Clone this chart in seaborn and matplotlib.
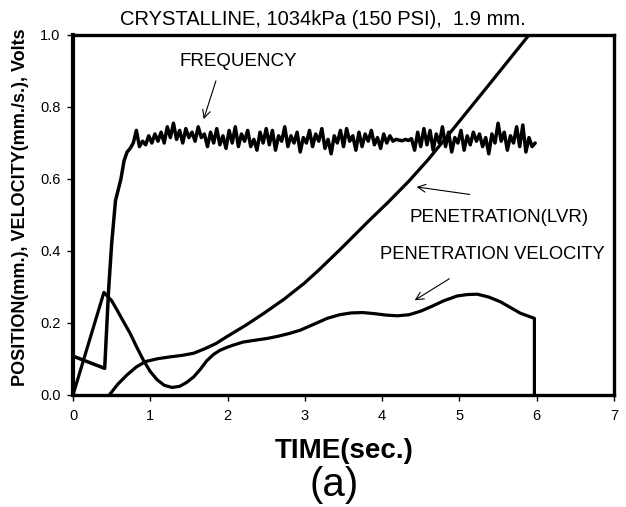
import numpy as np
import pandas as pd
import matplotlib
matplotlib.use("Agg")
import matplotlib.pyplot as plt
import seaborn as sns

# ---------------- data ----------------
title_text = "CRYSTALLINE, 1034kPa (150 PSI),  1.9 mm."
x_ticks = [0, 1, 2, 3, 4, 5, 6, 7]
y_ticks = [0.0, 0.2, 0.4, 0.6, 0.8, 1.0]

# Frequency: rising part
freq_t_start = [0.0, 0.41, 0.46, 0.50, 0.55, 0.62, 0.66, 0.70]
freq_v_start = [0.108, 0.074, 0.29, 0.42, 0.54, 0.60, 0.65, 0.675]
# Frequency: noisy plateau, sampled every 0.04 s from 0.74 s
freq_noise_t0 = 0.74
freq_noise_dt = 0.04
freq_noise_v = [
    0.685, 0.700, 0.735, 0.690, 0.705, 0.695, 0.720, 0.700, 0.725, 0.705,
    0.730, 0.700, 0.745, 0.715, 0.755, 0.710, 0.735, 0.700, 0.740, 0.715,
    0.730, 0.705, 0.745, 0.715, 0.725, 0.690, 0.730, 0.700, 0.740, 0.695,
    0.720, 0.685, 0.735, 0.700, 0.745, 0.690, 0.725, 0.705, 0.735, 0.690,
    0.710, 0.680, 0.730, 0.700, 0.740, 0.695, 0.735, 0.680, 0.720, 0.705,
    0.745, 0.690, 0.720, 0.700, 0.730, 0.675, 0.715, 0.700, 0.735, 0.690,
    0.725, 0.705, 0.740, 0.685, 0.710, 0.670, 0.720, 0.700, 0.735, 0.690,
    0.740, 0.705, 0.720, 0.680, 0.730, 0.690, 0.725, 0.705, 0.735, 0.695,
    0.715, 0.685, 0.725, 0.700, 0.720, 0.705, 0.710, 0.708, 0.706, 0.710,
    0.707, 0.712, 0.680, 0.730, 0.690, 0.740, 0.695, 0.735, 0.680, 0.725,
    0.700, 0.745, 0.690, 0.730, 0.675, 0.715, 0.700, 0.735, 0.680, 0.720,
    0.695, 0.730, 0.705, 0.725, 0.690, 0.715, 0.670, 0.725, 0.700, 0.755,
    0.705, 0.730, 0.680, 0.720, 0.700, 0.745, 0.690, 0.750, 0.675, 0.715,
    0.690, 0.700,
]

# Penetration velocity
vel_t = [0.0, 0.40, 0.50, 0.57, 0.65, 0.74, 0.82, 0.91, 1.00, 1.09, 1.18, 1.28,
         1.38, 1.47, 1.56, 1.65, 1.73, 1.82, 1.90, 2.00, 2.08, 2.20, 2.35, 2.51,
         2.65, 2.80, 2.94, 3.10, 3.29, 3.45, 3.60, 3.75, 3.90, 4.05, 4.20, 4.35,
         4.50, 4.63, 4.80, 4.97, 5.10, 5.23, 5.38, 5.53, 5.66, 5.79, 5.97, 5.97]
vel_v = [0.0, 0.285, 0.262, 0.236, 0.205, 0.171, 0.135, 0.097, 0.065, 0.042, 0.027, 0.021,
         0.024, 0.035, 0.050, 0.072, 0.095, 0.113, 0.124, 0.133, 0.139, 0.147, 0.152, 0.157,
         0.163, 0.171, 0.180, 0.195, 0.213, 0.223, 0.228, 0.229, 0.226, 0.222, 0.220, 0.223,
         0.233, 0.245, 0.262, 0.275, 0.279, 0.280, 0.272, 0.259, 0.243, 0.227, 0.213, 0.0]

# Penetration (LVR)
lvr_t = [0.47, 0.58, 0.70, 0.82, 0.94, 1.10, 1.26, 1.41, 1.56, 1.70, 1.85, 1.99,
         2.23, 2.47, 2.73, 2.99, 3.18, 3.46, 3.81, 4.08, 4.35, 4.60, 4.84, 5.10,
         5.36, 5.63, 5.90, 6.00]
lvr_v = [0.0, 0.030, 0.056, 0.078, 0.093, 0.101, 0.106, 0.110, 0.116, 0.128, 0.143, 0.162,
         0.193, 0.227, 0.266, 0.310, 0.347, 0.405, 0.480, 0.536, 0.595, 0.655, 0.718, 0.787,
         0.856, 0.928, 1.000, 1.027]

# ---------------- build tables ----------------
freq_t = freq_t_start + list(np.round(freq_noise_t0 + freq_noise_dt * np.arange(len(freq_noise_v)), 3))
freq_v = freq_v_start + freq_noise_v
df_freq = pd.DataFrame({"t": freq_t, "v": freq_v})
df_vel = pd.DataFrame({"t": vel_t, "v": vel_v})
df_lvr = pd.DataFrame({"t": lvr_t, "v": lvr_v})

# ---------------- style ----------------
sns.set_style("white")
plt.rcParams["font.family"] = ["Liberation Sans", "DejaVu Sans"]
plt.rcParams["text.color"] = "black"
plt.rcParams["axes.labelcolor"] = "black"
plt.rcParams["xtick.color"] = "black"
plt.rcParams["ytick.color"] = "black"

fig = plt.figure(figsize=(6.26, 5.07), dpi=100)
ax = fig.add_axes([73 / 626, 1 - 395 / 507, 541 / 626, 360 / 507])

for d, lw in ((df_freq, 2.5), (df_vel, 2.3), (df_lvr, 2.3)):
    sns.lineplot(data=d, x="t", y="v", ax=ax, color="black", linewidth=lw,
                 estimator=None, sort=False, legend=False)

ax.set_xlim(0, 7)
ax.set_ylim(0, 1.0)
ax.set_xticks(x_ticks)
ax.set_xticklabels([str(v) for v in x_ticks])
ax.set_yticks(y_ticks)
ax.set_yticklabels([f"{v:.1f}" for v in y_ticks])
ax.tick_params(axis="both", direction="out", length=4, width=1, color="black",
               labelsize=10.5, labelcolor="black")
ax.tick_params(axis="x", pad=6, bottom=True)
ax.tick_params(axis="y", pad=5, left=True)
for side, s in ax.spines.items():
    s.set_visible(True)
    s.set_color("black")
    s.set_linewidth(2.4)
ax.spines["left"].set_linewidth(3.0)
ax.set_xlabel("")
ax.set_ylabel("")
ax.grid(False)

# annotations
arrow_kw = dict(arrowstyle="->", lw=0.8, color="black", mutation_scale=14)
ax.annotate("", xy=(1.68, 0.759), xytext=(1.86, 0.88), arrowprops=arrow_kw)
ax.text(2.14, 0.925, "FREQUENCY", fontsize=13.5, ha="center", va="center")
ax.annotate("", xy=(4.41, 0.579), xytext=(5.17, 0.556), arrowprops=arrow_kw)
ax.text(5.51, 0.494, "PENETRATION(LVR)", fontsize=13.5, ha="center", va="center")
ax.annotate("", xy=(4.39, 0.259), xytext=(4.90, 0.327), arrowprops=arrow_kw)
ax.text(5.43, 0.389, "PENETRATION VELOCITY", fontsize=13.2, ha="center", va="center")

# titles / labels
fig.text(323 / 626, 1 - 25 / 507, title_text, fontsize=14.5, ha="center", va="baseline")
fig.text(21 / 626, 1 - 207.5 / 507, "POSITION(mm.), VELOCITY(mm./s.), Volts",
         fontsize=13, fontweight="bold", rotation=90, ha="center", va="center")
fig.text(344 / 626, 1 - 458 / 507, "TIME(sec.)", fontsize=20, fontweight="bold",
         ha="center", va="baseline")
fig.text(334 / 626, 1 - 496 / 507, "(a)", fontsize=29, ha="center", va="baseline")

fig.savefig("out.png", dpi=100, facecolor="white")
